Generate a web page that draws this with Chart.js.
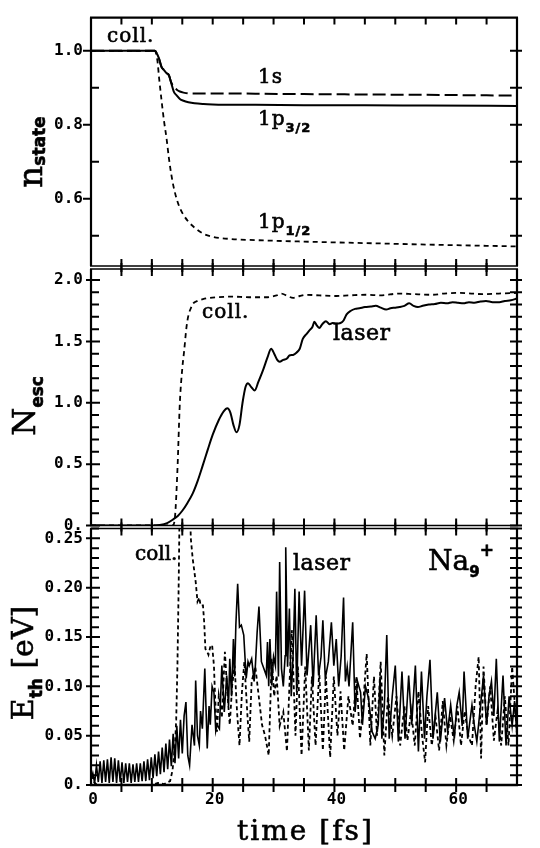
<!DOCTYPE html>
<html>
<head>
<meta charset="utf-8">
<script src="https://cdn.jsdelivr.net/npm/chart.js@4.4.1/dist/chart.umd.min.js"></script>
<style>
  html, body { margin: 0; padding: 0; background: #fff; }
  #wrap { position: relative; width: 540px; height: 848px; }
  canvas { position: absolute; left: 0; top: 0; }
</style>
</head>
<body>
<div id="wrap">
  <canvas id="cTop" width="540" height="848"></canvas>
  <canvas id="cMid" width="540" height="848"></canvas>
  <canvas id="cBot" width="540" height="848"></canvas>
</div>
<script>
// ---- data: top panel (occupation of states) ----
const timeState = [0, 10.5, 10.9, 11.2, 11.6, 12.0, 12.4, 12.8, 13.2, 13.6, 14.1, 14.6, 15.2, 16.0, 17.0, 18.5, 20.0, 23.0, 27.0, 35.0, 45.0, 55.0, 70.0];
const n1s   = [1.0, 1.0, 0.99, 0.978, 0.956, 0.948, 0.94, 0.934, 0.914, 0.903, 0.895, 0.890, 0.887, 0.885, 0.885, 0.885, 0.885, 0.885, 0.884, 0.883, 0.882, 0.881, 0.879];
const n1p32 = [1.0, 1.0, 0.99, 0.978, 0.956, 0.948, 0.94, 0.934, 0.912, 0.890, 0.879, 0.870, 0.865, 0.861, 0.858, 0.856, 0.855, 0.854, 0.854, 0.853, 0.853, 0.852, 0.851];
const n1p12 = [1.0, 1.0, 0.975, 0.925, 0.865, 0.81, 0.765, 0.71, 0.665, 0.63, 0.598, 0.575, 0.556, 0.538, 0.522, 0.505, 0.497, 0.491, 0.488, 0.484, 0.480, 0.476, 0.471];
const nStateTicks = [0.6, 0.8, 1.0];
const nStateTickLabels = ['0.6', '0.8', '1.0'];

// ---- data: middle panel (escaped electrons) ----
const timeEscLaser = [0, 10, 11.3, 12.5, 13.5, 14.3, 15, 15.8, 16.7, 17.5, 18.3, 19.2, 20, 21, 21.8, 22.4, 22.9, 23.4, 23.9, 24.4, 24.9, 25.4, 25.8, 26.3, 26.9, 27.5, 28.3, 29.0, 29.6, 30.1, 30.6, 31.0, 31.6, 32.2, 32.6, 33.2, 33.8, 34.3, 34.8, 35.4, 35.9, 36.4, 36.7, 37.1, 37.5, 38.0, 38.6, 39.2, 39.7, 40.3, 41.0, 41.5, 42.0, 42.7, 43.4, 44.1, 45, 46, 46.8, 47.6, 48.5, 49.2, 50, 50.7, 51.5, 52.3, 53, 53.7, 54.5, 55.5, 56.5, 57.5, 58.5, 59.4, 60.3, 61.2, 62.1, 63, 64, 64.9, 66, 67.1, 68, 69, 70];
const nEscLaser    = [0, 0, 0.005, 0.02, 0.05, 0.08, 0.12, 0.18, 0.26, 0.36, 0.48, 0.62, 0.74, 0.86, 0.93, 0.955, 0.92, 0.82, 0.76, 0.82, 1.0, 1.13, 1.16, 1.13, 1.10, 1.17, 1.27, 1.37, 1.44, 1.40, 1.35, 1.335, 1.35, 1.36, 1.385, 1.39, 1.41, 1.44, 1.52, 1.56, 1.59, 1.62, 1.66, 1.63, 1.61, 1.64, 1.665, 1.64, 1.65, 1.645, 1.65, 1.67, 1.72, 1.75, 1.765, 1.77, 1.78, 1.785, 1.79, 1.775, 1.76, 1.77, 1.775, 1.78, 1.79, 1.81, 1.79, 1.78, 1.79, 1.80, 1.805, 1.815, 1.81, 1.82, 1.815, 1.81, 1.82, 1.815, 1.825, 1.83, 1.82, 1.82, 1.83, 1.835, 1.85];
const timeEscColl = [0, 13.4, 13.8, 14.2, 14.6, 15.0, 15.3, 15.7, 16.0, 16.4, 16.8, 17.5, 18.4, 19.5, 20.6, 23, 26, 28.8, 30.5, 31.3, 32.3, 33.2, 34.3, 35.4, 37.5, 40.3, 42.5, 45.2, 47.5, 50.7, 53, 56.1, 58, 60.5, 62.5, 64.3, 67, 70];
const nEscColl    = [0, 0, 0.07, 0.45, 1.0, 1.28, 1.42, 1.62, 1.71, 1.77, 1.81, 1.83, 1.845, 1.855, 1.86, 1.865, 1.86, 1.86, 1.875, 1.89, 1.87, 1.855, 1.87, 1.88, 1.875, 1.87, 1.875, 1.88, 1.875, 1.89, 1.885, 1.88, 1.89, 1.895, 1.89, 1.885, 1.89, 1.895];
const nEscTicks = [0, 0.5, 1.0, 1.5, 2.0];
const nEscTickLabels = ['0.', '0.5', '1.0', '1.5', '2.0'];

// ---- data: bottom panel (thermal energy) ----
const timeEthLaser = [0.0, 0.3, 0.6, 0.9, 1.2, 1.5, 1.8, 2.1, 2.4, 2.7, 3.0, 3.3, 3.6, 3.9, 4.2, 4.5, 4.8, 5.1, 5.4, 5.7, 6.0, 6.3, 6.6, 6.9, 7.2, 7.5, 7.8, 8.1, 8.4, 8.7, 9.0, 9.3, 9.6, 9.9, 10.2, 10.5, 10.8, 11.1, 11.4, 11.7, 12.0, 12.3, 12.6, 12.9, 13.2, 13.5, 13.8, 14.1, 14.4, 14.7, 15.0, 15.3, 15.6, 15.9, 16.2, 16.6, 17.0, 17.2, 17.5, 17.8, 18.0, 18.3, 18.7, 19.1, 19.4, 19.6, 19.9, 20.2, 20.5, 20.7, 21.1, 21.5, 21.9, 22.3, 22.6, 22.8, 23.1, 23.4, 23.6, 23.8, 24.1, 24.4, 24.7, 25.1, 25.5, 25.8, 26.0, 26.4, 26.8, 27.0, 27.3, 27.6, 28.0, 28.4, 28.8, 29.0, 29.2, 29.4, 29.7, 30.0, 30.3, 30.5, 30.8, 31.0, 31.3, 31.6, 31.9, 32.0, 32.3, 32.6, 32.9, 33.2, 33.5, 33.8, 34.2, 34.6, 35.1, 35.5, 36.1, 36.5, 37.0, 37.4, 37.8, 38.1, 38.5, 39.0, 39.5, 39.9, 40.3, 40.7, 41.1, 41.5, 41.8, 42.1, 42.4, 43.0, 43.4, 43.8, 44.3, 44.6, 45.1, 45.6, 46.2, 46.7, 47.2, 47.5, 47.8, 48.2, 48.6, 49.0, 49.5, 50.0, 50.5, 51.1, 51.6, 52.2, 52.7, 53.3, 53.8, 54.3, 54.8, 55.2, 55.7, 56.2, 56.9, 57.4, 58.1, 58.6, 59.1, 59.7, 60.1, 60.5, 61.0, 61.3, 61.9, 62.6, 63.0, 63.4, 64.0, 64.5, 65.0, 65.4, 65.8, 66.2, 66.6, 67.1, 67.7, 68.2, 68.7, 69.2, 69.6, 70.0];
const eThLaser     = [0.005, 0.012, 0.002, 0.020, 0.003, 0.024, 0.002, 0.025, 0.003, 0.026, 0.002, 0.028, 0.003, 0.027, 0.002, 0.025, 0.003, 0.023, 0.002, 0.022, 0.003, 0.022, 0.002, 0.021, 0.003, 0.022, 0.003, 0.022, 0.004, 0.024, 0.004, 0.026, 0.005, 0.028, 0.007, 0.031, 0.009, 0.034, 0.011, 0.038, 0.013, 0.042, 0.016, 0.046, 0.019, 0.052, 0.022, 0.060, 0.027, 0.066, 0.032, 0.070, 0.084, 0.030, 0.020, 0.061, 0.040, 0.106, 0.050, 0.040, 0.075, 0.057, 0.118, 0.037, 0.080, 0.061, 0.100, 0.094, 0.055, 0.061, 0.057, 0.121, 0.074, 0.111, 0.080, 0.128, 0.090, 0.148, 0.110, 0.162, 0.204, 0.160, 0.162, 0.152, 0.108, 0.125, 0.121, 0.128, 0.105, 0.120, 0.155, 0.181, 0.125, 0.118, 0.111, 0.145, 0.100, 0.148, 0.101, 0.130, 0.121, 0.196, 0.110, 0.226, 0.118, 0.100, 0.131, 0.241, 0.120, 0.179, 0.090, 0.130, 0.199, 0.094, 0.196, 0.121, 0.197, 0.111, 0.162, 0.100, 0.172, 0.111, 0.130, 0.167, 0.108, 0.125, 0.165, 0.121, 0.148, 0.100, 0.130, 0.190, 0.105, 0.120, 0.100, 0.165, 0.074, 0.105, 0.094, 0.061, 0.100, 0.088, 0.054, 0.047, 0.061, 0.110, 0.047, 0.080, 0.152, 0.047, 0.090, 0.121, 0.044, 0.115, 0.047, 0.111, 0.061, 0.121, 0.034, 0.115, 0.047, 0.090, 0.127, 0.047, 0.094, 0.044, 0.088, 0.054, 0.081, 0.047, 0.080, 0.094, 0.060, 0.115, 0.047, 0.081, 0.060, 0.044, 0.080, 0.111, 0.061, 0.090, 0.105, 0.070, 0.128, 0.044, 0.111, 0.040, 0.090, 0.060, 0.085, 0.050];
const timeEthColl = [0.0, 0.5, 1.0, 10.0, 11.0, 12.0, 13.0, 13.4, 13.8, 14.0, 14.2, 14.4, 14.6, 15.0, 15.8, 16.2, 16.4, 16.7, 17.2, 17.5, 17.8, 18.0, 18.4, 18.6, 18.8, 19.1, 19.3, 19.6, 19.9, 20.2, 20.4, 20.7, 21.0, 21.3, 21.5, 22.0, 22.4, 22.8, 23.2, 23.6, 24.0, 24.4, 24.8, 25.2, 25.7, 26.0, 26.4, 27.0, 27.6, 28.1, 28.6, 29.2, 29.7, 30.1, 30.5, 31.0, 31.6, 32.2, 32.6, 33.0, 33.6, 34.0, 34.6, 35.2, 35.8, 36.3, 36.9, 37.5, 38.1, 38.6, 39.3, 39.9, 40.5, 41.0, 41.6, 42.3, 43.0, 43.6, 44.2, 44.7, 45.3, 45.9, 46.5, 47.0, 47.6, 48.2, 48.8, 49.5, 50.2, 50.8, 51.5, 52.0, 52.6, 53.2, 53.8, 54.4, 54.9, 55.4, 56.0, 56.6, 57.2, 57.8, 58.4, 59.0, 59.6, 60.2, 60.8, 61.4, 62.0, 62.6, 63.2, 63.7, 64.1, 64.5, 65.0, 65.6, 66.2, 66.8, 67.4, 68.0, 68.6, 69.2, 70.0];
const eThColl     = [0.010, 0.003, 0.000, 0.000, 0.002, 0.001, 0.004, 0.015, 0.040, 0.066, 0.120, 0.200, 0.300, 0.400, 0.400, 0.300, 0.250, 0.230, 0.206, 0.186, 0.190, 0.182, 0.182, 0.165, 0.138, 0.135, 0.132, 0.140, 0.142, 0.121, 0.088, 0.054, 0.091, 0.080, 0.068, 0.135, 0.094, 0.061, 0.101, 0.121, 0.074, 0.040, 0.094, 0.125, 0.071, 0.044, 0.105, 0.120, 0.088, 0.061, 0.050, 0.030, 0.128, 0.090, 0.111, 0.060, 0.074, 0.034, 0.100, 0.157, 0.050, 0.120, 0.030, 0.120, 0.035, 0.110, 0.040, 0.115, 0.035, 0.110, 0.028, 0.110, 0.050, 0.095, 0.035, 0.090, 0.060, 0.110, 0.047, 0.080, 0.133, 0.040, 0.110, 0.050, 0.125, 0.030, 0.090, 0.050, 0.090, 0.040, 0.080, 0.045, 0.075, 0.040, 0.095, 0.050, 0.023, 0.080, 0.040, 0.070, 0.035, 0.085, 0.040, 0.070, 0.045, 0.080, 0.040, 0.075, 0.050, 0.040, 0.100, 0.130, 0.027, 0.120, 0.060, 0.100, 0.045, 0.075, 0.040, 0.090, 0.040, 0.120, 0.050];
const eThTicks = [0, 0.05, 0.10, 0.15, 0.20, 0.25];
const eThTickLabels = ['0.', '0.05', '0.10', '0.15', '0.20', '0.25'];

const timeTicks = [0, 20, 40, 60];
const timeTickLabels = ['0', '20', '40', '60'];

const SERIF = '"DejaVu Serif", serif';
const SANS = '"DejaVu Sans", sans-serif';
const MONO_FONT = { family: '"DejaVu Sans Mono", monospace', size: 16, weight: 'bold' };

const pts = (xs, ys) => xs.map((x, i) => ({ x: x, y: ys[i] }));

// text made of several pieces (subscripts etc.), optionally rotated
function drawRich(ctx, parts, x, y, rotate, spacing) {
  ctx.save();
  ctx.translate(x, y);
  if (rotate) ctx.rotate(-Math.PI / 2);
  ctx.fillStyle = '#000';
  ctx.strokeStyle = '#000';
  ctx.lineWidth = 0.6;
  ctx.textAlign = 'left';
  ctx.textBaseline = 'alphabetic';
  ctx.letterSpacing = (spacing || 0) + 'px';
  let w = 0;
  parts.forEach(p => { ctx.font = p[1]; w += ctx.measureText(p[0]).width; });
  let u = rotate ? -w / 2 : 0;
  parts.forEach(p => {
    ctx.font = p[1];
    ctx.fillText(p[0], u, p[2] || 0);
    ctx.strokeText(p[0], u, p[2] || 0); // thicken strokes a little
    u += ctx.measureText(p[0]).width;
  });
  ctx.restore();
}

// frame, inward tick marks on all four sides and the panel texts
function framePlugin(cfg) {
  return {
    id: 'frame',
    afterDraw(chart) {
      const { ctx, chartArea: a, scales: { x, y } } = chart;
      ctx.save();
      ctx.strokeStyle = '#000';
      ctx.lineCap = 'butt';

      ctx.lineWidth = cfg.topW;
      ctx.beginPath(); ctx.moveTo(a.left - 1, a.top); ctx.lineTo(a.right + 1, a.top); ctx.stroke();
      ctx.lineWidth = cfg.botW;
      ctx.beginPath(); ctx.moveTo(a.left - 1, a.bottom); ctx.lineTo(a.right + 1, a.bottom); ctx.stroke();
      ctx.lineWidth = 2.2;
      ctx.beginPath();
      ctx.moveTo(a.left, a.top); ctx.lineTo(a.left, a.bottom);
      ctx.moveTo(a.right, a.top); ctx.lineTo(a.right, a.bottom);
      ctx.stroke();

      ctx.lineWidth = 2;
      ctx.beginPath();
      for (let t = 5; t < 70; t += 5) {
        const px = x.getPixelForValue(t);
        ctx.moveTo(px, a.top - cfg.topOut); ctx.lineTo(px, a.top + 7);
        ctx.moveTo(px, a.bottom - 7); ctx.lineTo(px, a.bottom + cfg.botOut);
      }
      const k0 = Math.ceil(y.min / cfg.minor - 1e-6), k1 = Math.floor(y.max / cfg.minor + 1e-6);
      for (let k = k0; k <= k1; k++) {
        const v = k * cfg.minor;
        const py = y.getPixelForValue(v);
        const r = v / cfg.major;
        const isMajor = Math.abs(r - Math.round(r)) < 1e-6;
        if (isMajor) {
          ctx.moveTo(a.left - cfg.majOut, py); ctx.lineTo(a.left + cfg.majIn, py);
        } else {
          ctx.moveTo(a.left, py); ctx.lineTo(a.left + 8, py);
        }
        ctx.moveTo(a.right - 7, py); ctx.lineTo(a.right + 5, py);
      }
      ctx.stroke();
      ctx.restore();

      cfg.texts.forEach(t => drawRich(ctx, t.parts, t.x, t.y, t.rotate, t.spacing));
    }
  };
}

function panel(id, datasets, yMin, yMax, ticks, labels, padTop, padBottom, showX, frameCfg) {
  return new Chart(document.getElementById(id), {
    type: 'line',
    data: { datasets: datasets },
    options: {
      responsive: false,
      animation: false,
      events: [],
      layout: { padding: { left: 0, right: 23, top: padTop, bottom: padBottom } },
      elements: { point: { radius: 0 } },
      plugins: { legend: { display: false }, tooltip: { enabled: false } },
      scales: {
        x: {
          type: 'linear',
          min: 0,
          max: 70,
          display: showX,
          afterBuildTicks: s => { s.ticks = timeTicks.map(v => ({ value: v })); },
          afterFit: s => { s.height = showX ? 63 : 0; },
          grid: { display: false, drawTicks: false },
          border: { display: false },
          ticks: {
            autoSkip: false,
            maxRotation: 0,
            padding: 5,
            labelOffset: 2,
            color: '#000',
            font: MONO_FONT,
            callback: v => timeTickLabels[timeTicks.indexOf(v)]
          }
        },
        y: {
          type: 'linear',
          min: yMin,
          max: yMax,
          afterBuildTicks: s => { s.ticks = ticks.map(v => ({ value: v })); },
          afterFit: s => { s.width = 91; },
          grid: { display: false, drawTicks: false },
          border: { display: false },
          ticks: {
            padding: 8,
            color: '#000',
            font: MONO_FONT,
            callback: v => labels[ticks.findIndex(t => Math.abs(t - v) < 1e-9)]
          }
        }
      }
    },
    plugins: [framePlugin(frameCfg)]
  });
}

const solid = (data, w) => ({ data: data, borderColor: '#000', borderWidth: w, fill: false, cubicInterpolationMode: 'monotone' });
const dashed = (data, w, dash) => ({ data: data, borderColor: '#000', borderWidth: w, borderDash: dash, fill: false, cubicInterpolationMode: 'monotone' });

// top: n_state
panel('cTop', [
  solid(pts(timeState, n1p32), 2),
  dashed(pts(timeState, n1s), 2, [13, 5]),
  dashed(pts(timeState, n1p12), 1.8, [5, 4])
], 0.418, 1.09, nStateTicks, nStateTickLabels, 10, 848 - 266, false, {
  topW: 2.4, botW: 1.5, topOut: 0, botOut: 6, minor: 0.1, major: 0.2, majOut: 8, majIn: 1,
  texts: [
    { parts: [['n', '34px ' + SERIF], ['state', 'bold 17px ' + SANS, 3]], x: 42, y: 152, rotate: true },
    { parts: [['coll.', '20px ' + SERIF]], x: 107, y: 42, spacing: 1 },
    { parts: [['1s', '20px ' + SERIF]], x: 258, y: 83, spacing: 1 },
    { parts: [['1p', '20px ' + SERIF], ['3/2', 'bold 13px ' + SANS, 7]], x: 258, y: 125, spacing: 1 },
    { parts: [['1p', '20px ' + SERIF], ['1/2', 'bold 13px ' + SANS, 7]], x: 258, y: 228, spacing: 1 }
  ]
});

// middle: N_esc
panel('cMid', [
  solid(pts(timeEscLaser, nEscLaser), 2),
  dashed(pts(timeEscColl, nEscColl), 1.8, [5, 4])
], 0, 2.09, nEscTicks, nEscTickLabels, 269, 848 - 525.5, false, {
  topW: 1.5, botW: 1.5, topOut: 6, botOut: 6, minor: 0.1, major: 0.5, majOut: 5, majIn: 9,
  texts: [
    { parts: [['N', '32px ' + SERIF], ['esc', 'bold 17px ' + SANS, 8]], x: 35, y: 406, rotate: true },
    { parts: [['coll.', '20px ' + SERIF]], x: 202, y: 318, spacing: 1 },
    { parts: [['laser', '22px ' + SERIF]], x: 333, y: 340, spacing: 0.5 }
  ]
});

// bottom: E_th
panel('cBot', [
  { data: pts(timeEthLaser, eThLaser), borderColor: '#000', borderWidth: 1.6, fill: false, tension: 0 },
  { data: pts(timeEthColl, eThColl), borderColor: '#000', borderWidth: 1.8, borderDash: [4, 3], fill: false, tension: 0 }
], 0, 0.26, eThTicks, eThTickLabels, 528.5, 0, true, {
  topW: 1.5, botW: 2.4, topOut: 6, botOut: 7, minor: 0.01, major: 0.05, majOut: 5, majIn: 9,
  texts: [
    { parts: [['E', '30px ' + SERIF], ['th', 'bold 17px ' + SANS, 9], [' [eV]', '30px ' + SERIF]], x: 33, y: 663, rotate: true },
    { parts: [['coll.', '20px ' + SERIF]], x: 135, y: 560 },
    { parts: [['laser', '22px ' + SERIF]], x: 293, y: 570, spacing: 0.5 },
    { parts: [['Na', '28px ' + SERIF], ['9', 'bold 15px ' + SANS, 7], ['+', 'bold 17px ' + SANS, -14]], x: 428, y: 570 },
    { parts: [['time [fs]', '28px ' + SERIF]], x: 237, y: 840, spacing: 2 }
  ]
});
</script>
</body>
</html>
